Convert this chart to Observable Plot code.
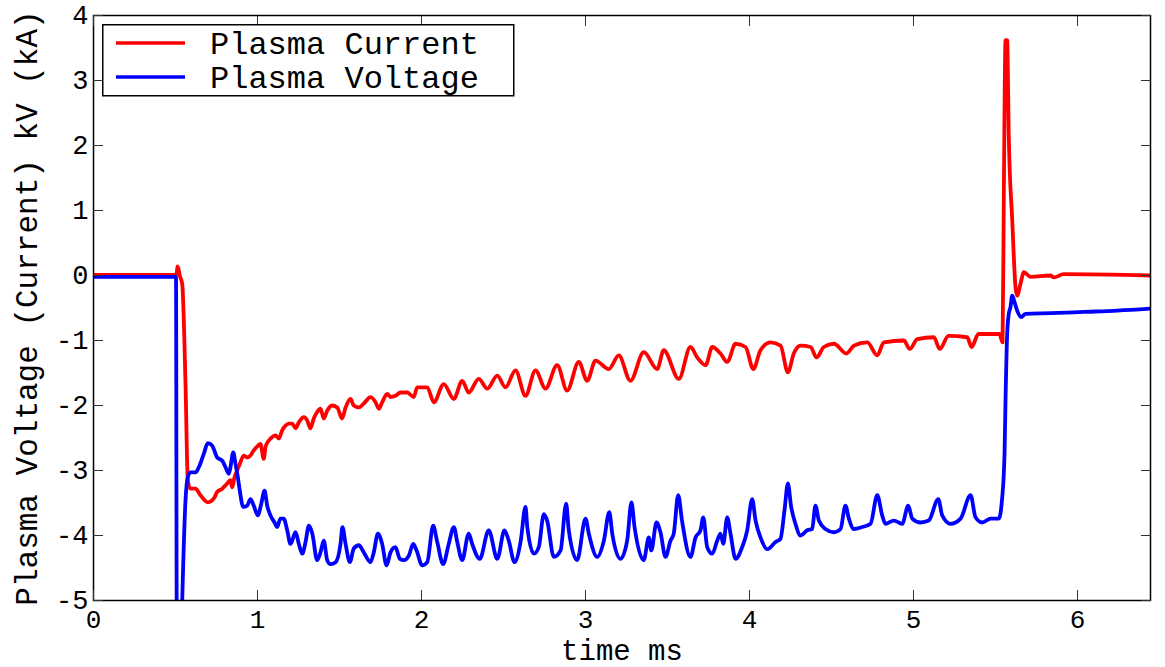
<!DOCTYPE html>
<html><head><meta charset="utf-8">
<script src="https://cdn.jsdelivr.net/npm/d3@7"></script>
<script src="https://cdn.jsdelivr.net/npm/@observablehq/plot@0.6"></script>
<style>
body{margin:0;background:#fff;}
#wrap{position:relative;width:1165px;height:667px;}
#legend{position:absolute;left:102px;top:24px;}
</style></head>
<body><div id="wrap"></div>
<script>
const seriesNames = ["Plasma Current", "Plasma Voltage"];
const seriesColors = ["#ff0000", "#0000ff"];
const xTicks = [0, 1, 2, 3, 4, 5, 6];
const yTicks = [-5, -4, -3, -2, -1, 0, 1, 2, 3, 4];

// [time ms, kA]
const plasmaCurrent = [[0,0.01],[0.50,0.01],[0.508,0.05],[0.512,0.14],[0.52,0.08],[0.526,0.0],[0.541,-0.13],[0.561,-1.66],[0.575,-3.15],[0.591,-3.28],[0.622,-3.28],[0.652,-3.38],[0.697,-3.49],[0.734,-3.43],[0.754,-3.33],[0.785,-3.28],[0.815,-3.2],[0.835,-3.15],[0.846,-3.26],[0.860,-3.1],[0.876,-3.0],[0.892,-2.9],[0.916,-2.77],[0.937,-2.8],[0.957,-2.77],[0.977,-2.69],[1.002,-2.62],[1.018,-2.59],[1.038,-2.82],[1.049,-2.64],[1.063,-2.56],[1.079,-2.51],[1.110,-2.46],[1.130,-2.51],[1.151,-2.38],[1.171,-2.31],[1.191,-2.28],[1.212,-2.28],[1.232,-2.35],[1.252,-2.26],[1.282,-2.18],[1.303,-2.23],[1.323,-2.35],[1.343,-2.2],[1.364,-2.1],[1.384,-2.05],[1.404,-2.2],[1.425,-2.08],[1.455,-2.0],[1.486,-2.03],[1.516,-2.2],[1.537,-2.03],[1.567,-1.9],[1.587,-2.0],[1.618,-2.03],[1.648,-1.97],[1.689,-1.87],[1.720,-1.95],[1.740,-2.05],[1.760,-1.95],[1.791,-1.82],[1.811,-1.87],[1.841,-1.85],[1.872,-1.8],[1.913,-1.8],[1.953,-1.87],[1.974,-1.72],[2.035,-1.72],[2.075,-1.95],[2.136,-1.67],[2.197,-1.9],[2.248,-1.62],[2.288,-1.8],[2.349,-1.59],[2.401,-1.74],[2.462,-1.54],[2.512,-1.72],[2.573,-1.46],[2.634,-1.85],[2.695,-1.46],[2.756,-1.74],[2.827,-1.38],[2.888,-1.77],[2.959,-1.33],[3.010,-1.62],[3.061,-1.31],[3.142,-1.44],[3.203,-1.23],[3.274,-1.62],[3.355,-1.18],[3.437,-1.44],[3.477,-1.15],[3.569,-1.59],[3.640,-1.1],[3.681,-1.26],[3.732,-1.38],[3.773,-1.1],[3.823,-1.2],[3.864,-1.33],[3.915,-1.05],[3.976,-1.1],[4.023,-1.44],[4.067,-1.15],[4.128,-1.03],[4.189,-1.08],[4.234,-1.49],[4.270,-1.2],[4.311,-1.08],[4.372,-1.1],[4.409,-1.26],[4.453,-1.1],[4.514,-1.05],[4.591,-1.2],[4.636,-1.08],[4.718,-1.03],[4.779,-1.23],[4.819,-1.03],[4.941,-1.0],[4.977,-1.13],[5.023,-0.98],[5.124,-0.95],[5.160,-1.13],[5.213,-0.93],[5.327,-0.95],[5.354,-1.1],[5.396,-0.9],[5.524,-0.9],[5.543,-1.03],[5.551,1.36],[5.561,3.62],[5.571,3.62],[5.581,2.13],[5.602,0.85],[5.622,-0.18],[5.632,-0.31],[5.652,-0.13],[5.673,0.05],[5.713,-0.02],[5.835,0.0],[5.856,-0.03],[5.915,0.02],[6.445,0.0]];

// [time ms, kV]
const plasmaVoltage = [[0,-0.02],[0.503,-0.02],[0.508,-5.6],[0.535,-5.6],[0.541,-5.0],[0.561,-3.46],[0.575,-3.1],[0.591,-3.03],[0.622,-3.03],[0.642,-2.95],[0.673,-2.74],[0.697,-2.58],[0.724,-2.62],[0.754,-2.8],[0.785,-2.85],[0.805,-2.95],[0.825,-3.05],[0.835,-2.95],[0.852,-2.72],[0.866,-2.9],[0.880,-3.1],[0.892,-3.31],[0.913,-3.56],[0.937,-3.54],[0.957,-3.44],[0.977,-3.54],[1.002,-3.69],[1.023,-3.51],[1.043,-3.31],[1.059,-3.54],[1.079,-3.69],[1.104,-3.8],[1.120,-3.87],[1.140,-3.74],[1.160,-3.74],[1.181,-3.92],[1.201,-4.13],[1.232,-3.95],[1.252,-4.13],[1.273,-4.28],[1.293,-4.1],[1.313,-3.85],[1.334,-3.97],[1.364,-4.38],[1.384,-4.26],[1.404,-4.08],[1.425,-4.38],[1.445,-4.44],[1.476,-4.41],[1.506,-4.13],[1.518,-3.87],[1.537,-4.13],[1.563,-4.41],[1.587,-4.2],[1.618,-4.15],[1.648,-4.26],[1.689,-4.41],[1.709,-4.26],[1.734,-3.97],[1.760,-4.13],[1.787,-4.46],[1.811,-4.26],[1.841,-4.18],[1.868,-4.36],[1.892,-4.38],[1.923,-4.31],[1.949,-4.13],[1.970,-4.23],[2.004,-4.46],[2.035,-4.41],[2.071,-3.85],[2.096,-4.1],[2.132,-4.44],[2.166,-4.13],[2.197,-3.87],[2.218,-4.1],[2.248,-4.38],[2.288,-3.97],[2.309,-4.13],[2.355,-4.36],[2.410,-3.92],[2.462,-4.36],[2.506,-3.92],[2.532,-4.08],[2.567,-4.41],[2.604,-4.1],[2.634,-3.56],[2.645,-3.87],[2.685,-4.28],[2.715,-4.18],[2.746,-3.67],[2.766,-3.77],[2.807,-4.33],[2.848,-4.23],[2.882,-3.51],[2.898,-3.92],[2.949,-4.38],[3.0,-3.74],[3.020,-3.97],[3.071,-4.33],[3.112,-4.08],[3.145,-3.64],[3.163,-3.97],[3.213,-4.36],[3.254,-4.08],[3.280,-3.49],[3.299,-3.87],[3.355,-4.38],[3.386,-4.03],[3.401,-4.23],[3.433,-3.8],[3.457,-3.95],[3.488,-4.33],[3.518,-4.08],[3.538,-3.97],[3.565,-3.38],[3.590,-3.8],[3.640,-4.33],[3.671,-4.03],[3.701,-3.92],[3.718,-3.72],[3.742,-4.18],[3.773,-4.28],[3.803,-4.08],[3.823,-3.97],[3.840,-4.13],[3.864,-3.72],[3.884,-3.97],[3.915,-4.36],[3.955,-4.18],[3.986,-3.92],[4.016,-3.44],[4.037,-3.77],[4.067,-4.03],[4.108,-4.21],[4.159,-4.1],[4.189,-4.05],[4.213,-3.62],[4.234,-3.2],[4.254,-3.56],[4.280,-3.82],[4.311,-4.0],[4.352,-3.92],[4.382,-3.9],[4.402,-3.54],[4.423,-3.77],[4.463,-3.9],[4.514,-3.95],[4.555,-3.9],[4.585,-3.54],[4.606,-3.74],[4.636,-3.9],[4.687,-3.87],[4.738,-3.82],[4.779,-3.38],[4.809,-3.69],[4.829,-3.82],[4.880,-3.77],[4.931,-3.82],[4.968,-3.54],[4.992,-3.74],[5.043,-3.8],[5.093,-3.77],[5.151,-3.44],[5.175,-3.69],[5.226,-3.82],[5.287,-3.74],[5.348,-3.38],[5.378,-3.72],[5.419,-3.8],[5.470,-3.74],[5.520,-3.74],[5.541,-3.41],[5.555,-2.74],[5.561,-1.92],[5.571,-0.9],[5.581,-0.59],[5.591,-0.49],[5.602,-0.31],[5.616,-0.41],[5.632,-0.54],[5.657,-0.64],[5.683,-0.59],[5.835,-0.58],[6.038,-0.56],[6.242,-0.54],[6.445,-0.51]];

const toRows = arr => arr.map(([t, v]) => ({t, v}));
const currentRows = toRows(plasmaCurrent);
const voltageRows = toRows(plasmaVoltage);

const font = "'Liberation Mono', 'DejaVu Sans Mono', monospace";
const fmt = d => String(d);

const chart = Plot.plot({
  width: 1165, height: 667,
  marginLeft: 93, marginRight: 15, marginTop: 15, marginBottom: 67,
  style: {fontFamily: font, background: "#fff", color: "#000", overflow: "visible"},
  x: {domain: [0, 6.445]},
  y: {domain: [-5, 4]},
  marks: [
    Plot.line(currentRows, {x: "t", y: "v", stroke: seriesColors[0], strokeWidth: 3.8, curve: "monotone-x", clip: true}),
    Plot.line(voltageRows, {x: "t", y: "v", stroke: seriesColors[1], strokeWidth: 3.8, curve: "monotone-x", clip: true}),
    Plot.frame({stroke: "#000", strokeWidth: 1.5}),
    Plot.axisX(xTicks, {anchor: "bottom", tickSize: 0, tickPadding: 9, fontSize: 26, tickFormat: fmt, label: null}),
    Plot.axisX(xTicks, {anchor: "bottom", tickSize: -10, fill: "none", stroke: "#333", label: null}),
    Plot.axisX(xTicks, {anchor: "top", tickSize: -10, fill: "none", stroke: "#333", label: null}),
    Plot.axisY(yTicks, {anchor: "left", tickSize: 0, tickPadding: 5, fontSize: 27, tickFormat: fmt, label: null}),
    Plot.axisY(yTicks, {anchor: "left", tickSize: -10, fill: "none", stroke: "#333", label: null}),
    Plot.axisY(yTicks, {anchor: "right", tickSize: -10, fill: "none", stroke: "#333", label: null}),
    Plot.axisX([], {anchor: "bottom", tickSize: 0, label: "time ms", labelAnchor: "center", labelOffset: 59, labelArrow: "none", fontSize: 29}),
    Plot.axisY([], {anchor: "left", tickSize: 0, label: "Plasma Voltage (Current) kV (kA)", labelAnchor: "center", labelOffset: 79, labelArrow: "none", fontSize: 31})
  ]
});

const wrap = document.getElementById("wrap");
wrap.appendChild(chart);

// legend
const lg = d3.select(wrap).append("svg").attr("id", "legend")
  .attr("width", 414).attr("height", 74);
lg.append("rect").attr("x", 0.75).attr("y", 0.75).attr("width", 411).attr("height", 71)
  .attr("fill", "#fff").attr("stroke", "#000").attr("stroke-width", 1.5);
seriesNames.forEach((name, i) => {
  const cy = 19 + i * 34;
  lg.append("line").attr("x1", 14).attr("x2", 83).attr("y1", cy).attr("y2", cy)
    .attr("stroke", seriesColors[i]).attr("stroke-width", 3.5);
  lg.append("text").attr("x", 108).attr("y", cy).attr("dy", "0.35em")
    .attr("font-family", font).attr("font-size", 32).attr("fill", "#000").text(name);
});
</script>
</body></html>
